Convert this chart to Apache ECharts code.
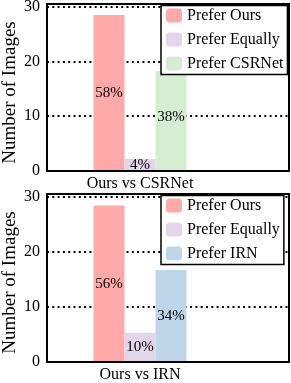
<!DOCTYPE html>
<html><head><meta charset="utf-8">
<script src="https://cdn.jsdelivr.net/npm/echarts@6/dist/echarts.min.js"></script>
<style>html,body{margin:0;padding:0;background:#fff}#c{width:291px;height:383px}</style>
</head><body><div id="c"></div>
<script>
const categoriesTop = ['Ours vs CSRNet'];
const categoriesBottom = ['Ours vs IRN'];
const namesTop = ['Prefer Ours', 'Prefer Equally', 'Prefer CSRNet'];
const namesBottom = ['Prefer Ours', 'Prefer Equally', 'Prefer IRN'];
const valuesTop = [28.5, 2.2, 18.2];
const valuesBottom = [28.4, 5.3, 16.7];
const labelsTop = ['58%', '4%', '38%'];
const labelsBottom = ['56%', '10%', '34%'];
const yTicks = [0, 10, 20, 30];
const yTitle = 'Number of Images';
const colorsTop = ['#FFA9A8', '#E3D5EA', '#D5EDD1'];
const colorsBottom = ['#FFA9A8', '#E3D5EA', '#BFD6EA'];

const FONT = 'Liberation Serif';
const panels = [
  {top: 4, height: 167, cats: categoriesTop, names: namesTop, vals: valuesTop, labels: labelsTop, colors: colorsTop},
  {top: 194, height: 168, cats: categoriesBottom, names: namesBottom, vals: valuesBottom, labels: labelsBottom, colors: colorsBottom}
];
const grid = [], xAxis = [], yAxis = [], series = [], legend = [], graphic = [];
panels.forEach((p, k) => {
  const gFrame = grid.length;
  grid.push({left: 47, width: 242, top: p.top, height: p.height, show: true, borderColor: '#000', borderWidth: 2,
    backgroundColor: 'transparent', z: 3, containLabel: false, outerBoundsMode: 'none'});
  const gBar = grid.length;
  grid.push({left: 47, width: 186, top: p.top, height: p.height, containLabel: false, outerBoundsMode: 'none'});
  xAxis.push({gridIndex: gFrame, type: 'value', show: false, min: 0, max: 1});
  xAxis.push({gridIndex: gBar, type: 'category', data: p.cats, axisLine: {show: false}, axisTick: {show: false},
    axisLabel: {color: '#000', fontFamily: FONT, fontSize: 16, margin: 5}});
  yAxis.push({gridIndex: gFrame, type: 'value', min: 0, max: 30.5, interval: 10,
    axisLine: {show: false}, axisTick: {show: false},
    axisLabel: {color: '#000', fontFamily: FONT, fontSize: 16, margin: 7, showMaxLabel: false,
      formatter: v => yTicks.includes(v) ? String(v) : ''},
    splitLine: {show: true, lineStyle: {color: '#000', width: 2, type: [2, 3.3]}}});
  yAxis.push({gridIndex: gBar, type: 'value', min: 0, max: 30.5, show: false, splitLine: {show: false}});
  graphic.push({type: 'text', x: 10, y: p.top + 88.5, rotation: Math.PI / 2,
    style: {text: yTitle, fill: '#000', font: '19px "Liberation Serif"', align: 'center', verticalAlign: 'middle'}});
  p.names.forEach((n, i) => {
    series.push({
      name: n, type: 'bar', xAxisIndex: gBar, yAxisIndex: gBar, barWidth: 31, barGap: '0%',
      itemStyle: {color: p.colors[i]}, z: 2,
      label: {show: true, position: 'inside', color: '#000', fontFamily: FONT, fontSize: 15,
        formatter: () => p.labels[i], offset: (k === 0 && i === 2) ? [0, -4] : [0, 0]},
      data: [p.vals[i]]
    });
  });
  legend.push({
    data: p.names, orient: 'vertical', left: 161, top: p.top + 1.5,
    itemWidth: 16, itemHeight: 14, itemGap: 8, icon: 'roundRect',
    backgroundColor: '#fff', borderColor: '#000', borderWidth: 1.5, borderRadius: 0,
    padding: [2, 4, 3, 5], z: 5,
    textStyle: {color: '#000', fontFamily: FONT, fontSize: 16},
    selectedMode: false
  });
});
const chart = echarts.init(document.getElementById('c'), null, {renderer: 'canvas'});
chart.setOption({animation: false, grid, xAxis, yAxis, series, legend, graphic});
</script></body></html>
